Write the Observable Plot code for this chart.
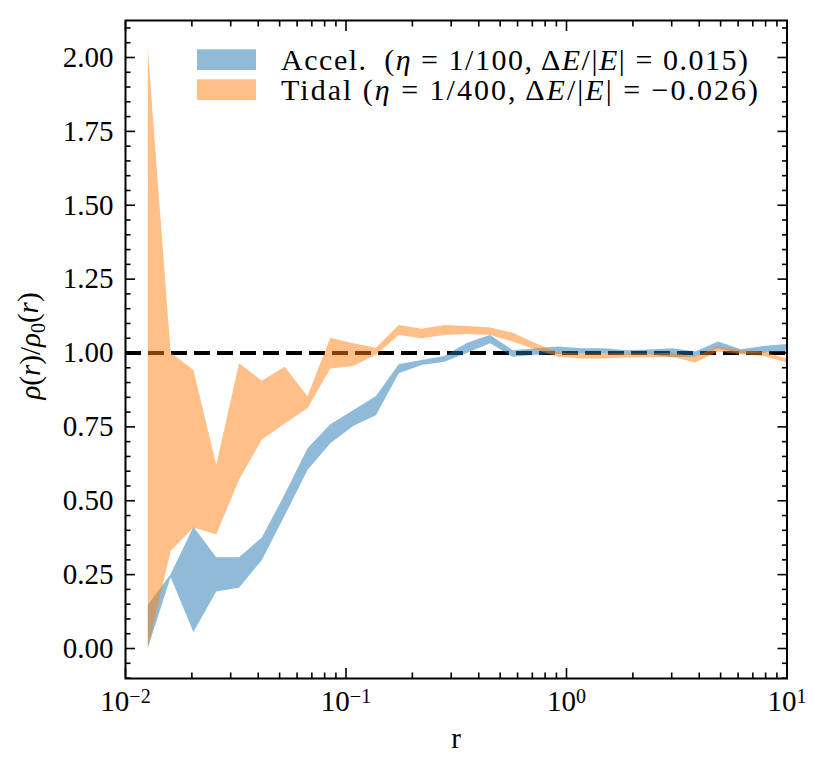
<!DOCTYPE html>
<html><head><meta charset="utf-8">
<script src="https://cdn.jsdelivr.net/npm/d3@7"></script>
<script src="https://cdn.jsdelivr.net/npm/@observablehq/plot@0.6"></script>
<style>
body{margin:0;background:#fff;}
svg{display:block;}
</style>
</head><body><div id="chart"></div>
<script>
// radial bin positions (logarithmically spaced)
const r = [0.01269, 0.01610, 0.02043, 0.02593, 0.03290, 0.04175, 0.05298, 0.06723, 0.08532, 0.10826,
           0.13738, 0.17433, 0.22122, 0.28072, 0.35623, 0.45204, 0.57362, 0.72790, 0.92367, 1.17210,
           1.48735, 1.88739, 2.39503, 3.03920, 3.85662, 4.89390, 6.21017, 7.88046, 10.0];
// Accel. band (lower / upper)
const accelLo = [0.000, 0.240, 0.054, 0.191, 0.204, 0.298, 0.448, 0.602, 0.693, 0.751,
                 0.788, 0.930, 0.958, 0.969, 0.999, 1.031, 0.986, 0.992, 0.995, 0.997,
                 0.997, 0.992, 0.994, 0.984, 0.986, 1.014, 0.997, 0.999, 1.003];
const accelHi = [0.146, 0.250, 0.410, 0.307, 0.307, 0.374, 0.520, 0.676, 0.757, 0.805,
                 0.853, 0.960, 0.975, 0.988, 1.033, 1.059, 1.008, 1.014, 1.020, 1.014,
                 1.014, 1.008, 1.010, 1.014, 1.003, 1.037, 1.011, 1.022, 1.029];
// Tidal band (lower / upper)
const tidalLo = [0.000, 0.328, 0.408, 0.385, 0.569, 0.706, 0.760, 0.811, 0.946, 0.954,
                 0.992, 1.059, 1.048, 1.059, 1.063, 1.059, 1.037, 1.010, 0.986, 0.980,
                 0.980, 0.983, 0.983, 0.986, 0.966, 1.003, 0.994, 0.988, 0.966];
const tidalHi = [2.025, 1.000, 0.941, 0.619, 0.964, 0.904, 0.952, 0.852, 1.050, 1.031,
                 1.016, 1.093, 1.080, 1.093, 1.090, 1.085, 1.067, 1.031, 0.999, 0.997,
                 0.997, 0.997, 0.997, 0.999, 0.986, 1.020, 1.008, 1.003, 0.980];

const xMajor = [0.01, 0.1, 1, 10];
const xMinor = [0.02,0.03,0.04,0.05,0.06,0.07,0.08,0.09, 0.2,0.3,0.4,0.5,0.6,0.7,0.8,0.9, 2,3,4,5,6,7,8,9];
const yMajor = [0, 0.25, 0.5, 0.75, 1, 1.25, 1.5, 1.75, 2];
const yMinor = [-0.1,-0.05,0.05,0.1,0.15,0.2,0.3,0.35,0.4,0.45,0.55,0.6,0.65,0.7,0.8,0.85,0.9,0.95,
                1.05,1.1,1.15,1.2,1.3,1.35,1.4,1.45,1.55,1.6,1.65,1.7,1.8,1.85,1.9,1.95,2.05,2.1];
const legendLabels = ["Accel.", "Tidal"];
const colors = ["#1f77b4", "#ff7f0e"];

const accel = r.map((x, i) => ({r: x, lo: accelLo[i], hi: accelHi[i]}));
const tidal = r.map((x, i) => ({r: x, lo: tidalLo[i], hi: tidalHi[i]}));

const MAJ = -10, MIN = -5.5, TW = 1.6;
const blank = () => "";
const FONT = "Liberation Serif";

const svg = Plot.plot({
  width: 830, height: 775,
  marginLeft: 125, marginRight: 43.5, marginTop: 20, marginBottom: 97,
  style: {fontFamily: FONT, fontSize: "29px", background: "#fff", color: "#000"},
  x: {type: "log", domain: [0.01, 10]},
  y: {domain: [-0.1015, 2.1252]},
  marks: [
    Plot.ruleY([1], {stroke: "black", strokeWidth: 4.2, strokeDasharray: "16,7"}),
    Plot.areaY(accel, {x: "r", y1: "lo", y2: "hi", fill: colors[0], fillOpacity: 0.5}),
    Plot.areaY(tidal, {x: "r", y1: "lo", y2: "hi", fill: colors[1], fillOpacity: 0.5}),
    Plot.axisX(xMajor, {anchor: "bottom", tickSize: MAJ, tickPadding: 22, strokeWidth: TW, label: null,
      tickFormat: d => "10^" + Math.round(Math.log10(d))}),
    Plot.axisX(xMinor, {anchor: "bottom", tickSize: MIN, strokeWidth: TW, label: null, tickFormat: blank}),
    Plot.axisX(xMajor, {anchor: "top", tickSize: MAJ, strokeWidth: TW, label: null, tickFormat: blank}),
    Plot.axisX(xMinor, {anchor: "top", tickSize: MIN, strokeWidth: TW, label: null, tickFormat: blank}),
    Plot.axisY(yMajor, {anchor: "left", tickSize: MAJ, tickPadding: 22, strokeWidth: TW, label: null,
      tickFormat: d3.format(".2f")}),
    Plot.axisY(yMinor, {anchor: "left", tickSize: MIN, strokeWidth: TW, label: null, tickFormat: blank}),
    Plot.axisY(yMajor, {anchor: "right", tickSize: MAJ, strokeWidth: TW, label: null, tickFormat: blank}),
    Plot.axisY(yMinor, {anchor: "right", tickSize: MIN, strokeWidth: TW, label: null, tickFormat: blank}),
    Plot.frame({stroke: "black", strokeWidth: 2})
  ]
});
document.getElementById("chart").appendChild(svg);

const s = d3.select(svg);
s.attr("font-family", FONT);
// superscript exponents on x tick labels
s.selectAll('g[aria-label="x-axis tick label"] text').each(function() {
  const t = d3.select(this);
  const txt = t.text();
  const m = txt.match(/^10\^(-?\d+)$/);
  if (!m) return;
  t.text(null);
  t.append("tspan").text("10");
  t.append("tspan").attr("dy", "-0.42em").attr("font-size", "20px").text(m[1].replace("-", "\u2212"));
});

function addParts(t, parts) {
  for (const p of parts) {
    const ts = t.append("tspan").text(p.t);
    if (p.i) ts.attr("font-style", "italic");
    if (p.dy) ts.attr("dy", p.dy);
    if (p.fs) ts.attr("font-size", p.fs);
  }
}

// x label
s.append("text").attr("x", 456).attr("y", 748).attr("text-anchor", "middle")
  .attr("font-size", "29px").text("r");

// y label
const yl = s.append("text").attr("transform", "translate(40,346) rotate(-90)")
  .attr("text-anchor", "middle").attr("font-size", "29px");
addParts(yl, [
  {t: "\u03C1", i: true}, {t: "("}, {t: "r", i: true}, {t: ")/"},
  {t: "\u03C1", i: true}, {t: "0", fs: "20px", dy: "0.25em"},
  {t: "(", dy: "-0.25em"}, {t: "r", i: true}, {t: ")"}
]);

// legend
const leg = s.append("g").attr("font-size", "30px").attr("text-anchor", "start");
const legendParts = [
  [{t: "Accel.\u2002("}, {t: "\u03B7", i: true}, {t: " = 1/100, \u0394"}, {t: "E", i: true},
   {t: "/|"}, {t: "E", i: true}, {t: "| = 0.015)"}],
  [{t: "Tidal ("}, {t: "\u03B7", i: true}, {t: " = 1/400, \u0394"}, {t: "E", i: true},
   {t: "/|"}, {t: "E", i: true}, {t: "| = \u22120.026)"}]
];
const legendWidths = [467, 477];
legendLabels.forEach((name, i) => {
  leg.append("rect").attr("x", 197).attr("y", 49.3 + 30 * i).attr("width", 59).attr("height", 20.7)
    .attr("fill", colors[i]).attr("fill-opacity", 0.5);
  const t = leg.append("text").attr("x", 281).attr("y", 70 + 30 * i).attr("text-anchor", "start")
    .attr("textLength", legendWidths[i]).attr("lengthAdjust", "spacing");
  addParts(t, legendParts[i]);
});

// force the serif face on every text element
s.selectAll("text, tspan").attr("font-family", FONT).style("font-family", FONT);
</script>
</body></html>
